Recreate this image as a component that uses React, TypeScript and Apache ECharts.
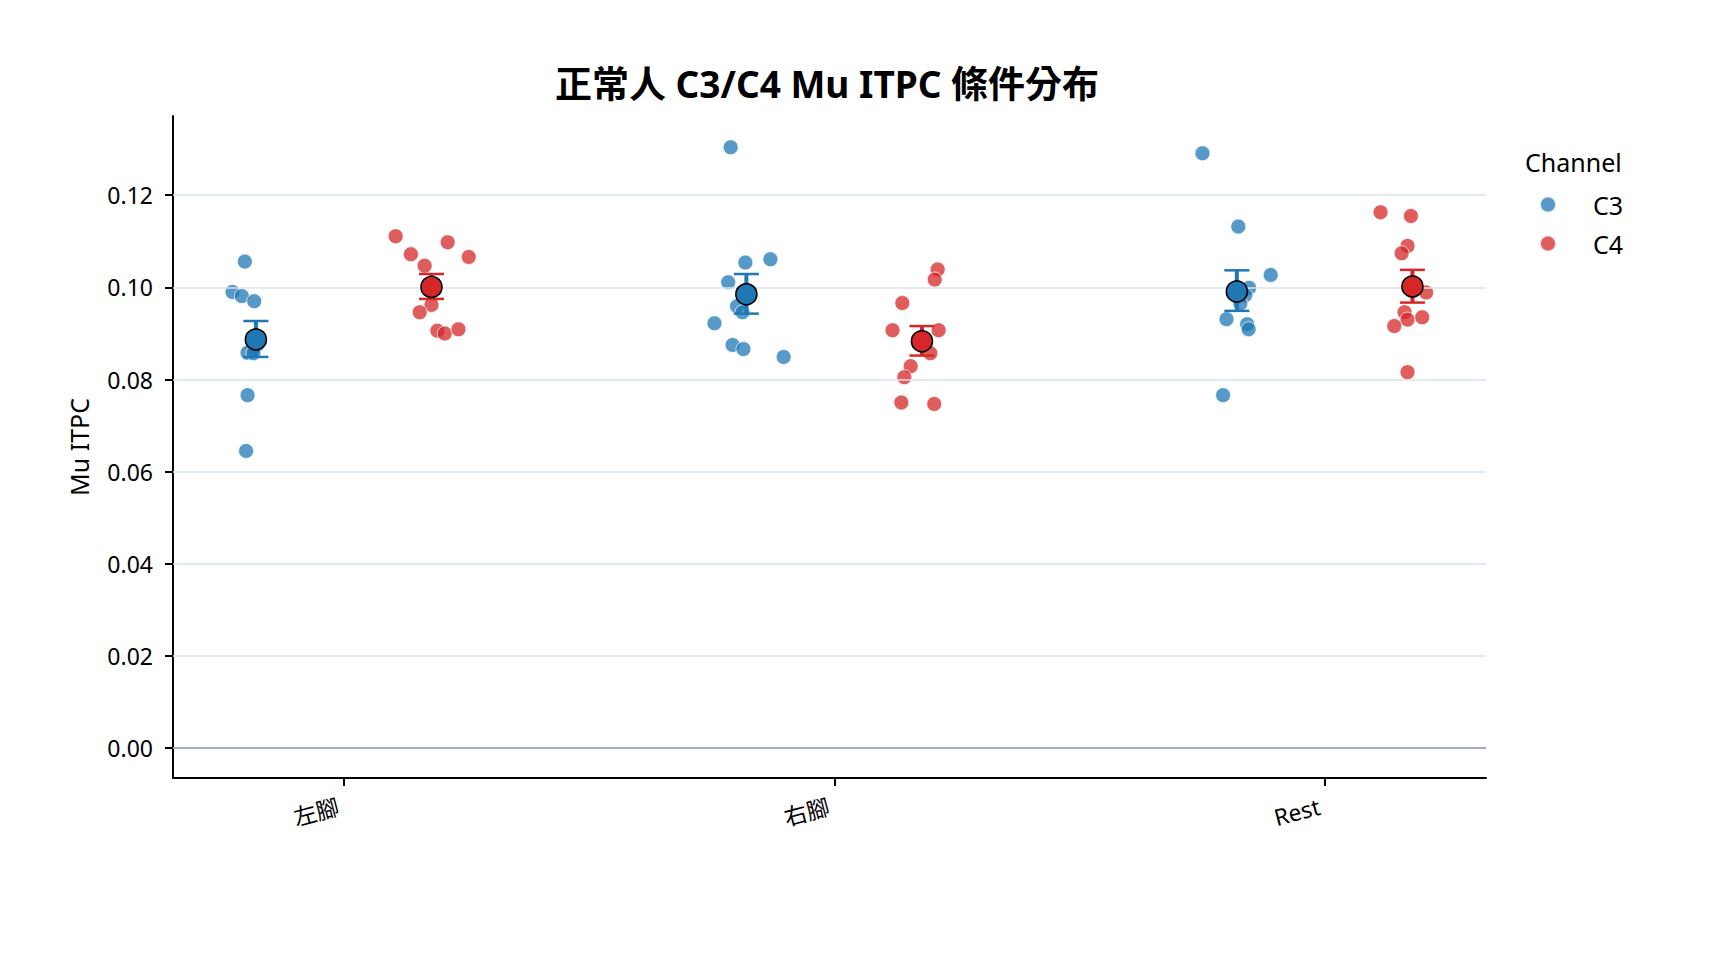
import React, { useEffect, useRef } from 'react';
import * as echarts from 'echarts';

const conditions = ['左腳', '右腳', 'Rest'];
const channels = ['C3', 'C4'];
const colors = ['#1f77b4', '#d62728'];

// subject values per condition (左腳, 右腳, Rest)
const c3Values = [
  [0.1056, 0.099, 0.0981, 0.097, 0.0874, 0.087, 0.0858, 0.0857, 0.0766, 0.0645],
  [0.1304, 0.1054, 0.1061, 0.1011, 0.0959, 0.0946, 0.0922, 0.0875, 0.0866, 0.0849],
  [0.1291, 0.1132, 0.1027, 0.0999, 0.0983, 0.0965, 0.0931, 0.092, 0.0909, 0.0766],
];
// horizontal strip offsets of each dot from its category centre
const c3Jitter = [
  [-0.2025, -0.2277, -0.2086, -0.1835, -0.178, -0.183, -0.197, -0.185, -0.197, -0.2],
  [-0.212, -0.182, -0.131, -0.217, -0.199, -0.188, -0.245, -0.208, -0.186, -0.104],
  [-0.25, -0.177, -0.111, -0.155, -0.163, -0.173, -0.201, -0.159, -0.156, -0.208],
];
const c4Values = [
  [0.1111, 0.1072, 0.1047, 0.1098, 0.1066, 0.0962, 0.0946, 0.0906, 0.09, 0.0909],
  [0.1039, 0.1017, 0.0966, 0.0907, 0.0907, 0.0857, 0.0829, 0.0805, 0.075, 0.0747],
  [0.1163, 0.1155, 0.109, 0.1074, 0.0989, 0.0946, 0.093, 0.0935, 0.0916, 0.0816],
];
const c4Jitter = [
  [0.105, 0.136, 0.164, 0.211, 0.254, 0.178, 0.154, 0.19, 0.205, 0.233],
  [0.21, 0.204, 0.138, 0.118, 0.212, 0.195, 0.155, 0.142, 0.136, 0.203],
  [0.113, 0.175, 0.168, 0.156, 0.206, 0.162, 0.168, 0.198, 0.141, 0.168],
];

const c3Mean = [0.0887, 0.0985, 0.0991];
const c3Low = [0.0849, 0.0943, 0.0949];
const c3High = [0.0927, 0.1029, 0.1037];
const c4Mean = [0.1001, 0.0883, 0.1002];
const c4Low = [0.0975, 0.0852, 0.0967];
const c4High = [0.1029, 0.0916, 0.1038];
const meanOffset = [-0.18, 0.178];

const yTicks = [0, 0.02, 0.04, 0.06, 0.08, 0.1, 0.12];
const gridLines = [0.02, 0.04, 0.06, 0.08, 0.1, 0.12];

const FONT = "'Noto Sans', 'Noto Sans CJK TC', sans-serif";

const App: React.FC = () => {
  const chartRef = useRef<HTMLDivElement>(null);

  useEffect(() => {
    if (!chartRef.current) return;
    const chart = echarts.init(chartRef.current, undefined, { renderer: 'svg' });

    const values = [c3Values, c4Values];
    const jitter = [c3Jitter, c4Jitter];
    const means = [c3Mean, c4Mean];
    const lows = [c3Low, c4Low];
    const highs = [c3High, c4High];

    const series: any[] = [
      {
        name: 'grid',
        type: 'line',
        data: [],
        silent: true,
        z: 1,
        markLine: {
          silent: true,
          symbol: ['none', 'none'],
          label: { show: false },
          animation: false,
          data: [
            ...gridLines.map(v => ({ yAxis: v, lineStyle: { color: '#d9e3ee', width: 1.5, type: 'solid' } })),
            { yAxis: 0, lineStyle: { color: '#a2abc0', width: 2, type: 'solid' } },
          ],
        },
      },
    ];

    channels.forEach((ch, ci) => {
      const pts: number[][] = [];
      values[ci].forEach((arr, k) => arr.forEach((v, j) => pts.push([k + jitter[ci][k][j], v])));
      series.push({
        name: ch,
        type: 'scatter',
        data: pts,
        symbolSize: 15,
        z: 3,
        itemStyle: { color: colors[ci], opacity: 0.75, borderColor: '#ffffff', borderWidth: 1 },
      });
    });

    channels.forEach((ch, ci) => {
      const color = colors[ci];
      series.push({
        name: ch + ' SE',
        type: 'custom',
        z: 4,
        data: conditions.map((_, k) => [k + meanOffset[ci], lows[ci][k], highs[ci][k]]),
        encode: { x: 0, y: [1, 2] },
        renderItem: (params: any, api: any) => {
          const x = api.value(0);
          const lo = api.coord([x, api.value(1)]);
          const hi = api.coord([x, api.value(2)]);
          const half = 12.5;
          return {
            type: 'group',
            children: [
              { type: 'line', shape: { x1: lo[0], y1: lo[1], x2: hi[0], y2: hi[1] }, style: { stroke: color, lineWidth: 4 } },
              { type: 'line', shape: { x1: hi[0] - half, y1: hi[1], x2: hi[0] + half, y2: hi[1] }, style: { stroke: color, lineWidth: 2.5 } },
              { type: 'line', shape: { x1: lo[0] - half, y1: lo[1], x2: lo[0] + half, y2: lo[1] }, style: { stroke: color, lineWidth: 2.5 } },
            ],
          };
        },
      });
      series.push({
        name: ch + ' mean',
        type: 'scatter',
        z: 5,
        symbolSize: 21,
        data: conditions.map((_, k) => [k + meanOffset[ci], means[ci][k]]),
        itemStyle: { color, opacity: 1, borderColor: '#000000', borderWidth: 1.6 },
      });
    });

    const option: any = {
      animation: false,
      backgroundColor: '#ffffff',
      title: {
        text: '正常人 C3/C4 Mu ITPC 條件分布',
        left: 555,
        top: 65,
        padding: 0,
        textStyle: { fontFamily: FONT, fontSize: 37, fontWeight: 'bold', color: '#000' },
      },
      grid: { left: 173, right: 242, top: 116, bottom: 194, containLabel: false },
      legend: {
        data: channels,
        orient: 'vertical',
        left: 1539,
        top: 192,
        padding: 0,
        itemWidth: 16,
        itemHeight: 16,
        itemGap: 14,
        icon: 'circle',
        textStyle: { fontFamily: FONT, fontSize: 25, color: '#000', padding: [0, 0, 0, 32], lineHeight: 25 },
      },
      graphic: [
        {
          type: 'text',
          left: 1525,
          top: 149,
          style: { text: 'Channel', fontFamily: FONT, fontSize: 25, fill: '#000' },
        },
      ],
      xAxis: {
        type: 'value',
        min: -0.349,
        max: 2.328,
        splitLine: { show: false },
        axisLine: { show: true, onZero: false, lineStyle: { color: '#000', width: 2 } },
        axisTick: { show: true, customValues: [0, 1, 2], length: 8, lineStyle: { color: '#000', width: 2 } },
        axisLabel: {
          customValues: [0, 1, 2],
          formatter: (v: number) => conditions[Math.round(v)] ?? '',
          rotate: 15,
          margin: 26,
          padding: [0, 6, 0, 0],
          fontSize: 23,
          fontFamily: FONT,
          color: '#000',
        },
      },
      yAxis: {
        type: 'value',
        min: -0.0065,
        max: 0.1372,
        name: 'Mu ITPC',
        nameLocation: 'middle',
        nameGap: 82,
        nameTextStyle: { fontFamily: FONT, fontSize: 25, color: '#000' },
        splitLine: { show: false },
        axisLine: { show: true, onZero: false, lineStyle: { color: '#000', width: 2 } },
        axisTick: { show: true, customValues: yTicks, length: 8, lineStyle: { color: '#000', width: 2 } },
        axisLabel: {
          customValues: yTicks,
          formatter: (v: number) => v.toFixed(2),
          margin: 20,
          fontSize: 23,
          fontFamily: FONT,
          color: '#000',
        },
      },
      series,
    };

    chart.setOption(option);
    return () => {
      chart.dispose();
    };
  }, []);

  return <div ref={chartRef} style={{ position: 'fixed', left: 0, top: 0, width: 1728, height: 972 }} />;
};

export default App;
